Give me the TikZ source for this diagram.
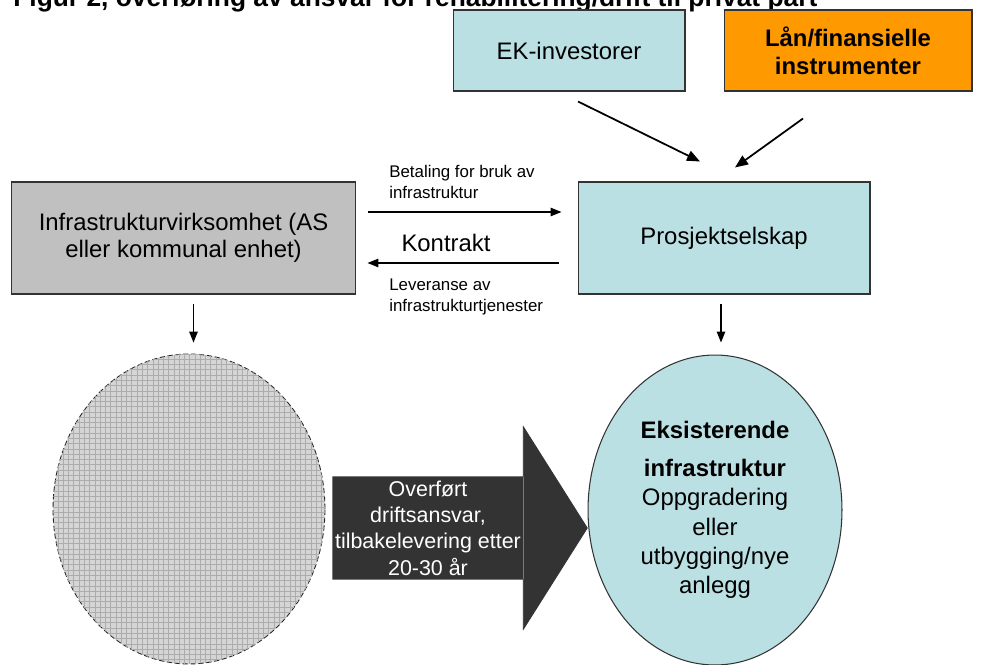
\documentclass[tikz,border=0pt]{standalone}
\usepackage{fontspec}
\setmainfont{Liberation Sans}
\usetikzlibrary{arrows.meta, positioning, calc, shapes.geometric, patterns}

\definecolor{boxteal}{RGB}{187,224,227}
\definecolor{loanorange}{RGB}{255,153,0}
\definecolor{ownergray}{RGB}{192,192,192}
\definecolor{transferdark}{RGB}{51,51,51}

\begin{document}
\begin{tikzpicture}[
  x=0.02cm, y=-0.02cm,
  box/.style   = {draw=black!80, line width=0.6pt, fill=boxteal, align=center, inner sep=2pt,
                  font=\fontsize{13.6}{15.5}\selectfont},
  loan/.style  = {box, fill=loanorange, font=\fontsize{13.6}{15.9}\selectfont\bfseries},
  owner/.style = {box, fill=ownergray},
  oval/.style  = {ellipse, draw=black!80, line width=0.6pt, inner sep=0pt, align=center,
                  minimum height=6.2cm},
  flowlabel/.style = {align=left, inner sep=0pt, font=\fontsize{9.6}{11.9}\selectfont},
  transfer/.style  = {fill=transferdark, text=white, align=center, inner sep=0pt,
                      minimum width=3.8cm, minimum height=2.04cm,
                      font=\fontsize{12.2}{15}\selectfont},
  arrow/.style     = {line width=0.7pt, -{Triangle[length=2.2mm, width=1.7mm]}},
  feedarrow/.style = {line width=1pt, -{Triangle[length=2.6mm, width=2.1mm]}}
]
\useasboundingbox (0,0) rectangle (984,665);

%--------------------------------------------------
% Title (cut at the top edge)
%--------------------------------------------------
\node[anchor=base west, inner sep=0pt, font=\fontsize{15}{17}\selectfont\bfseries] (title) at (13,7)
  {Figur 2, overføring av ansvar for rehabilitering/drift til privat part};

%--------------------------------------------------
% Parties (boxes)
%--------------------------------------------------
\node[box, minimum width=4.64cm, minimum height=1.62cm] (equity) at (569,50.5) {EK-investorer};
\node[loan, minimum width=4.96cm, minimum height=1.62cm] (loans) at (848,50.5)
  {Lån/finansielle\\instrumenter};

\node[box, minimum width=5.84cm, minimum height=2.24cm] (company) at (724,238) {Prosjektselskap};
\node[owner, minimum width=6.9cm, minimum height=2.24cm] (owner) at (183.5,238)
  {Infrastrukturvirksomhet (AS\\eller kommunal enhet)};

%--------------------------------------------------
% Assets (ovals)
%--------------------------------------------------
\node[oval, minimum width=5.44cm, fill=gray!33, draw=black!85, line width=0.5pt,
      dash pattern=on 3pt off 1.5pt,
      postaction={pattern=grid, pattern color=gray!65}] (oldasset) at (189,509) {};

\node[oval, minimum width=5.08cm, fill=boxteal, font=\fontsize{13.6}{16.6}\selectfont] (newasset) at (715,510)
  {\textbf{Eksisterende}\\[5pt]\textbf{infrastruktur}\\Oppgradering\\eller\\utbygging/nye\\anlegg};

%--------------------------------------------------
% Transfer arrow
%--------------------------------------------------
\node[transfer] (transfer) at (428,528)
  {Overført\\driftsansvar,\\tilbakelevering etter\\20-30 år};
\fill[transferdark] (transfer.north east) -- ([yshift=1.0cm]transfer.north east)
  -- ([xshift=1.28cm]transfer.east) -- ([yshift=-1.0cm]transfer.south east)
  -- (transfer.south east) -- cycle;
\draw[black!80, line width=0.4pt] (transfer.north west) -- (transfer.north east)
  -- ([yshift=1.0cm]transfer.north east) -- ([xshift=1.28cm]transfer.east)
  -- ([yshift=-1.0cm]transfer.south east) -- (transfer.south east)
  -- (transfer.south west) -- cycle;

%--------------------------------------------------
% Labels
%--------------------------------------------------
\node[flowlabel, anchor=west] (paylabel) at (389,182) {Betaling for bruk av\\infrastruktur};
\node[inner sep=0pt, font=\fontsize{13.6}{15.5}\selectfont] (contract) at (446,243) {Kontrakt};
\node[flowlabel, anchor=west] (deliverlabel) at (389,297) {Leveranse av\\infrastrukturtjenester};

%--------------------------------------------------
% Connections
%--------------------------------------------------

% financing into the project company
\draw[feedarrow] ([xshift=0.18cm, yshift=-0.2cm]equity.south)
  -- ([xshift=-0.48cm, yshift=0.4cm]company.north);
\draw[feedarrow] ([xshift=-0.9cm, yshift=-0.54cm]loans.south)
  -- ([xshift=0.22cm, yshift=0.28cm]company.north);

% payment and delivery
\draw[arrow] ([xshift=0.24cm, yshift=0.52cm]owner.east)
  -- ([xshift=-0.32cm, yshift=0.52cm]company.west);
\draw[arrow] ([xshift=-0.38cm, yshift=-0.5cm]company.west)
  -- ([xshift=0.22cm, yshift=-0.5cm]owner.east);

% down to the assets
\draw[arrow, shorten <=0.18cm, shorten >=0.22cm]
  ([xshift=0.2cm]owner.south) -- ([xshift=0.2cm]owner.south |- oldasset.north);
\draw[arrow, shorten <=0.18cm, shorten >=0.24cm]
  ([xshift=-0.06cm]company.south) -- ([xshift=-0.06cm]company.south |- newasset.north);

\end{tikzpicture}
\end{document}
